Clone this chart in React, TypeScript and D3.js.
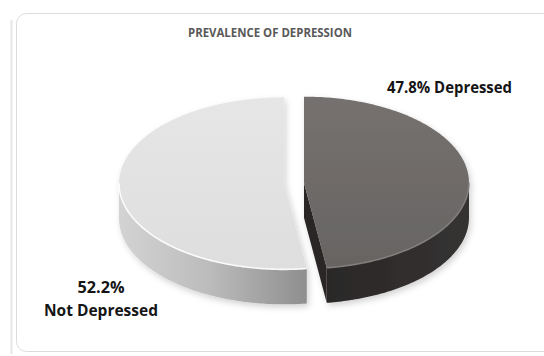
import { useMemo } from 'react';
import * as d3 from 'd3';

const TITLE = 'PREVALENCE OF DEPRESSION';
const CATEGORIES = ['Depressed', 'Not Depressed'];
const VALUES = [47.8, 52.2];
const LABELS = ['47.8% Depressed', '52.2%|Not Depressed'];

const W = 544;
const H = 356;

// ellipse of the pie top face
const CX = 294;
const CY = 183;
const RX = 165;
const RY = 86;
const DEPTH = 35;
const EXPLODE = 10;

type Pt = [number, number];

const TOP_FILL = ['url(#darkTop)', 'url(#lightTop)'];
const SIDE_FILL = ['url(#darkSide)', 'url(#lightSide)'];
const CUT_FILL = ['#2a2727', '#9a9a9a'];
const RIM = ['#858180', '#ffffff'];

function ptAt(a: number, ox: number, oy: number, dy = 0): Pt {
  return [CX + ox + RX * Math.sin(a), CY + oy - RY * Math.cos(a) + dy];
}

function arcPts(a0: number, a1: number, ox: number, oy: number, dy = 0): Pt[] {
  const n = Math.max(2, Math.ceil(Math.abs(a1 - a0) / 0.015));
  return d3.range(n + 1).map(i => ptAt(a0 + ((a1 - a0) * i) / n, ox, oy, dy));
}

export default function App() {
  const slices = useMemo(() => {
    const pie = d3.pie<number>().sort(null).value(d => d);
    const line = d3.line();
    return pie(VALUES).map((s, i) => {
      const mid = (s.startAngle + s.endAngle) / 2;
      const ox = EXPLODE * Math.sin(mid);
      const oy = (-EXPLODE * Math.cos(mid) * RY) / RX;
      const c: Pt = [CX + ox, CY + oy];
      const cb: Pt = [c[0], c[1] + DEPTH];

      const top = line([c, ...arcPts(s.startAngle, s.endAngle, ox, oy)]) + 'Z';

      // outer wall, only the front half is visible
      const w0 = Math.max(s.startAngle, Math.PI / 2);
      const w1 = Math.min(s.endAngle, (3 * Math.PI) / 2);
      let side = '';
      let rim = '';
      if (w1 > w0) {
        const upper = arcPts(w0, w1, ox, oy);
        const lower = arcPts(w0, w1, ox, oy, DEPTH).reverse();
        side = line([...upper, ...lower]) + 'Z';
        rim = line(upper) || '';
      }

      // cut faces along the radii that turn towards the viewer
      const cuts: string[] = [];
      const faces: [number, number][] = [
        [s.startAngle, s.startAngle - Math.PI / 2],
        [s.endAngle, s.endAngle + Math.PI / 2],
      ];
      faces.forEach(([a, n]) => {
        if (Math.cos(n) < -1e-6) {
          const e = ptAt(a, ox, oy);
          const eb = ptAt(a, ox, oy, DEPTH);
          cuts.push(line([c, e, eb, cb]) + 'Z');
        }
      });

      return { i, top, side, rim, cuts, category: CATEGORIES[i] };
    });
  }, []);

  const lightLeft = CX - EXPLODE - RX;
  const lightRight = CX + RX * Math.sin((VALUES[0] / 100) * 2 * Math.PI);

  return (
    <div style={{ position: 'fixed', left: 0, top: 0 }}>
      <svg width={W} height={H} style={{ display: 'block' }}>
        <defs>
          <linearGradient id="lightSide" gradientUnits="userSpaceOnUse" x1={lightLeft} x2={lightRight} y1={0} y2={0}>
            <stop offset="0%" stopColor="#d3d3d3" />
            <stop offset="45%" stopColor="#bcbcbc" />
            <stop offset="100%" stopColor="#8a8a8a" />
          </linearGradient>
          <linearGradient id="lightTop" x1="0" x2="0" y1="0" y2="1">
            <stop offset="0%" stopColor="#e6e6e6" />
            <stop offset="100%" stopColor="#dedede" />
          </linearGradient>
          <linearGradient id="darkTop" x1="0" x2="0" y1="0" y2="1">
            <stop offset="0%" stopColor="#75716f" />
            <stop offset="100%" stopColor="#686463" />
          </linearGradient>
          <linearGradient id="darkSide" x1="0" x2="1" y1="0" y2="0">
            <stop offset="0%" stopColor="#2b2828" />
            <stop offset="100%" stopColor="#353232" />
          </linearGradient>
          <filter id="soft" x="-10%" y="-10%" width="120%" height="130%">
            <feDropShadow dx="2" dy="3" stdDeviation="3" floodColor="#000" floodOpacity="0.18" />
          </filter>
        </defs>

        <rect x={0} y={0} width={W} height={H} fill="#ffffff" />
        {/* card with a faint band on its left */}
        <line x1={11.5} x2={11.5} y1={20} y2={354} stroke="#e6e6e6" strokeWidth={2} />
        <rect x={16.5} y={13.5} width={540} height={338} rx={10} fill="#ffffff" stroke="#dcdcdc" strokeWidth={1} />

        <text
          x={270}
          y={37}
          textAnchor="middle"
          fontFamily="'Open Sans', 'Noto Sans', sans-serif"
          fontWeight={700}
          fontSize={12}
          fill="#595959"
          textLength={164}
          lengthAdjust="spacingAndGlyphs"
        >
          {TITLE}
        </text>

        <g filter="url(#soft)">
          {slices.map(s => (
            <g key={s.category}>
              {s.cuts.map((d, k) => (
                <path key={k} d={d} fill={CUT_FILL[s.i]} />
              ))}
              {s.side && <path d={s.side} fill={SIDE_FILL[s.i]} />}
              <path d={s.top} fill={TOP_FILL[s.i]} />
              {s.rim && (
                <path d={s.rim} fill="none" stroke={RIM[s.i]} strokeWidth={1.6} strokeOpacity={0.9} />
              )}
            </g>
          ))}
        </g>

        <g fontFamily="'Open Sans', 'Noto Sans', sans-serif" fontWeight={700} fontSize={16} fill="#151515">
          <text x={387} y={93} textLength={125} lengthAdjust="spacingAndGlyphs">
            {LABELS[0]}
          </text>
          <text x={101} y={293} textAnchor="middle" textLength={47} lengthAdjust="spacingAndGlyphs">
            {LABELS[1].split('|')[0]}
          </text>
          <text x={101} y={316} textAnchor="middle" textLength={114} lengthAdjust="spacingAndGlyphs">
            {LABELS[1].split('|')[1]}
          </text>
        </g>
      </svg>
    </div>
  );
}
